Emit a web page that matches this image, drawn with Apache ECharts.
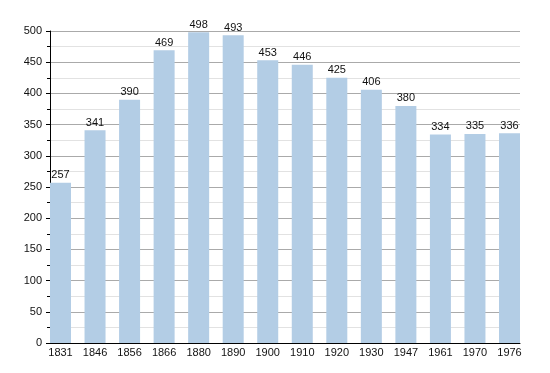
<!DOCTYPE html>
<html><head><meta charset="utf-8">
<script src="https://cdn.jsdelivr.net/npm/echarts@6/dist/echarts.min.js"></script>
<style>html,body{margin:0;padding:0;background:#fff}#c{width:550px;height:373px}</style>
</head><body><div id="c"></div>
<script>
const years = ['1831','1846','1856','1866','1880','1890','1900','1910','1920','1930','1947','1961','1970','1976'];
const population = [257,341,390,469,498,493,453,446,425,406,380,334,335,336];
const yMin = 0, yMax = 500, yStep = 50;

const font = 'Liberation Sans, Arial, sans-serif';
const chart = echarts.init(document.getElementById('c'), null, {renderer:'canvas'});
chart.setOption({
  animation:false,
  backgroundColor:'#fff',
  grid:[
    {left:60.5, right:40.5, top:31, bottom:30},
    {left:50, right:30, top:31, bottom:30}
  ],
  xAxis:[
    {type:'category', gridIndex:0, data:years, boundaryGap:false,
     axisLine:{show:false}, axisTick:{show:false},
     axisLabel:{color:'#111', fontSize:11, fontFamily:font, margin:4}},
    {type:'value', gridIndex:1, min:0, max:1,
     axisLine:{show:true, lineStyle:{color:'#000', width:1}},
     axisTick:{show:false}, axisLabel:{show:false}, splitLine:{show:false}}
  ],
  yAxis:[
    {type:'value', gridIndex:0, min:yMin, max:yMax, interval:yStep, show:false, splitLine:{show:false}},
    {type:'value', gridIndex:1, min:yMin, max:yMax, interval:yStep,
     axisLine:{show:true, lineStyle:{color:'#000', width:1}},
     axisTick:{show:true, length:4, lineStyle:{color:'#000'}},
     minorTick:{show:true, splitNumber:2, length:3, lineStyle:{color:'#000'}},
     axisLabel:{color:'#111', fontSize:11, fontFamily:font, margin:8},
     splitLine:{show:true, lineStyle:{color:'#aaa', width:1}},
     minorSplitLine:{show:true, lineStyle:{color:'#e2e2e2', width:1}}}
  ],
  series:[{
    type:'bar', xAxisIndex:0, yAxisIndex:0, data:population, barWidth:21,
    itemStyle:{color:'#b3cde5'},
    label:{show:true, position:'top', distance:2, color:'#111', fontSize:11, fontFamily:font}
  }]
});
</script></body></html>
